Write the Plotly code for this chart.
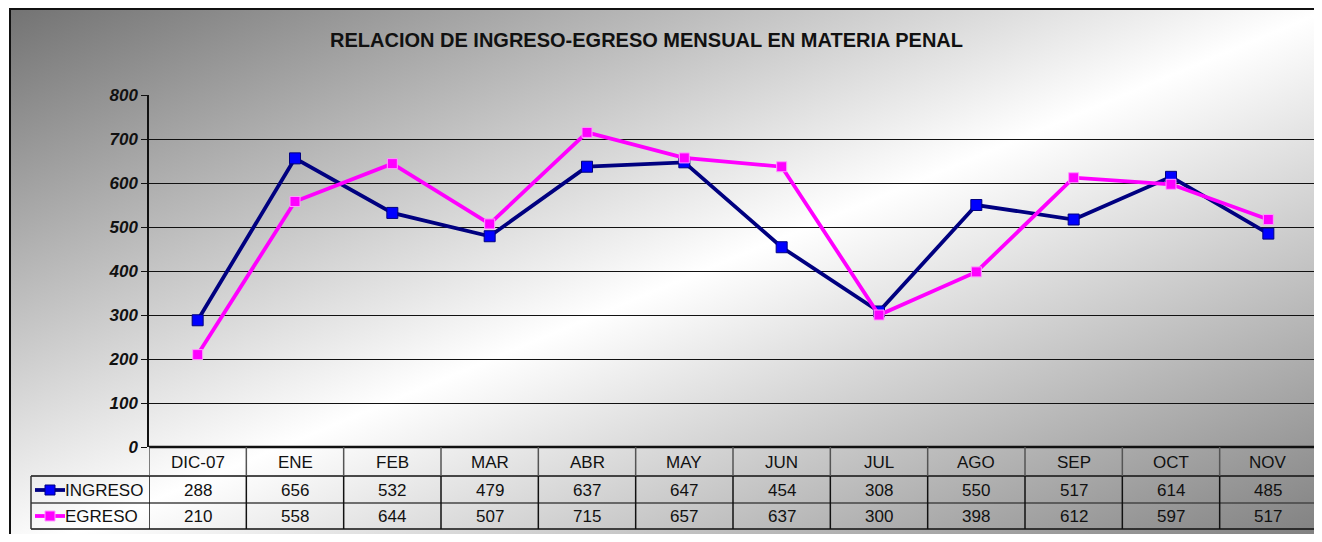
import base64
import plotly.graph_objects as go

# ---------------- data ----------------
categories = ["DIC-07", "ENE", "FEB", "MAR", "ABR", "MAY", "JUN", "JUL", "AGO", "SEP", "OCT", "NOV"]
ingreso = [288, 656, 532, 479, 637, 647, 454, 308, 550, 517, 614, 485]
egreso = [210, 558, 644, 507, 715, 657, 637, 300, 398, 612, 597, 517]
series_names = ["INGRESO", "EGRESO"]
y_ticks = [0, 100, 200, 300, 400, 500, 600, 700, 800]
title_text = "RELACION DE INGRESO-EGRESO MENSUAL EN MATERIA PENAL"

# ---------------- geometry ----------------
W, H = 1314, 526          # figure placed at page offset (8, 8)
OFF = 8
ML, MR, MT, MB = 141, 5, 87, 87
PW = W - ML - MR
PH = H - MT - MB


def px(xpage):
    return (xpage - OFF - ML) / PW


def py(ypage):
    return (H - (ypage - OFF) - MB) / PH


NAVY = "#000080"
BLUE = "#0000FF"
MAG = "#FF00FF"
FONT = "Liberation Sans, Arial, sans-serif"
TXT = 17

fig = go.Figure()
fig.add_trace(go.Scatter(
    x=list(range(len(categories))), y=ingreso, name=series_names[0], mode="lines+markers",
    line=dict(color=NAVY, width=3.8),
    marker=dict(symbol="square", size=11, color=BLUE, line=dict(color=NAVY, width=1)),
    showlegend=False, cliponaxis=False,
))
fig.add_trace(go.Scatter(
    x=list(range(len(categories))), y=egreso, name=series_names[1], mode="lines+markers",
    line=dict(color=MAG, width=3.8),
    marker=dict(symbol="square", size=10, color=MAG, line=dict(color="#FF99FF", width=1)),
    showlegend=False, cliponaxis=False,
))

# background gradient
svg = (
    '<svg xmlns="http://www.w3.org/2000/svg" width="100" height="100" viewBox="0 0 100 100" '
    'preserveAspectRatio="none"><defs><linearGradient id="g" x1="0" y1="0" x2="1" y2="1">'
    '<stop offset="0" stop-color="#737373"/><stop offset="0.5" stop-color="#ffffff"/>'
    '<stop offset="1" stop-color="#7a7a7a"/></linearGradient></defs>'
    '<rect x="0" y="0" width="100" height="100" fill="url(#g)"/></svg>'
)
src = "data:image/svg+xml;base64," + base64.b64encode(svg.encode()).decode()
fig.add_layout_image(dict(
    source=src, xref="paper", yref="paper",
    x=px(10), y=py(9), sizex=px(1330) - px(10), sizey=py(9) - py(560),
    sizing="stretch", layer="below", xanchor="left", yanchor="top",
))

shapes = []
# outer border of chart
shapes.append(dict(type="rect", xref="paper", yref="paper", x0=px(10), x1=px(1321),
                   y0=py(9), y1=py(560), line=dict(color="#111111", width=2), layer="above"))
# right border of plot area
shapes.append(dict(type="line", xref="paper", yref="paper", x0=1, x1=1, y0=0, y1=1,
                   line=dict(color="#444444", width=1.5)))
# bottom axis line (thick)
shapes.append(dict(type="line", xref="paper", yref="paper", x0=0, x1=1, y0=0, y1=0,
                   line=dict(color="#111111", width=2.5)))
# table horizontal lines
for yp, col, wd in [(476, "#111111", 1.5), (503, "#444444", 1.5), (529, "#111111", 1.5)]:
    shapes.append(dict(type="line", xref="paper", yref="paper", x0=px(31),
                       x1=1, y0=py(yp), y1=py(yp), line=dict(color=col, width=wd)))
# legend cell box left side
shapes.append(dict(type="line", xref="paper", yref="paper", x0=px(31), x1=px(31),
                   y0=py(476), y1=py(529), line=dict(color="#333333", width=1.5)))
# column separators
n = len(categories)
for i in range(n + 1):
    xb = i - 0.5
    shapes.append(dict(type="line", xref="x", yref="paper", x0=xb, x1=xb,
                       y0=py(447), y1=py(476), line=dict(color="#555555", width=1.5)))
    shapes.append(dict(type="line", xref="x", yref="paper", x0=xb, x1=xb,
                       y0=py(476), y1=py(529), line=dict(color="#111111", width=1.5)))

# legend keys
key_specs = [(490, NAVY, BLUE, NAVY), (516, MAG, MAG, "#FF99FF")]
for yp, lc, fc, bc in key_specs:
    shapes.append(dict(type="line", xref="paper", yref="paper", x0=px(35), x1=px(65),
                       y0=py(yp), y1=py(yp), line=dict(color=lc, width=3.8)))
    shapes.append(dict(type="rect", xref="paper", yref="paper", xsizemode="pixel",
                       ysizemode="pixel", xanchor=px(50), yanchor=py(yp), x0=-5, x1=5, y0=-5, y1=5,
                       fillcolor=fc, line=dict(color=bc, width=1)))

annotations = []
annotations.append(dict(text="<b>" + title_text + "</b>", xref="paper", yref="paper",
                        x=px(646), y=py(40), showarrow=False, xanchor="center", yanchor="middle",
                        font=dict(family=FONT, size=20, color="#111111")))
for i, c in enumerate(categories):
    annotations.append(dict(text=c, xref="x", yref="paper", x=i, y=py(462), showarrow=False,
                            yanchor="middle", font=dict(family=FONT, size=TXT, color="#111111")))
    annotations.append(dict(text=str(ingreso[i]), xref="x", yref="paper", x=i, y=py(490),
                            showarrow=False, yanchor="middle",
                            font=dict(family=FONT, size=TXT, color="#111111")))
    annotations.append(dict(text=str(egreso[i]), xref="x", yref="paper", x=i, y=py(516),
                            showarrow=False, yanchor="middle",
                            font=dict(family=FONT, size=TXT, color="#111111")))
for name, yp in zip(series_names, [490, 516]):
    annotations.append(dict(text=name, xref="paper", yref="paper", x=px(63), y=py(yp),
                            showarrow=False, xanchor="left", yanchor="middle",
                            font=dict(family=FONT, size=TXT, color="#111111")))

fig.update_layout(
    width=W, height=H, autosize=False,
    margin=dict(l=ML, r=MR, t=MT, b=MB, pad=0),
    paper_bgcolor="rgba(0,0,0,0)", plot_bgcolor="rgba(0,0,0,0)",
    shapes=shapes, annotations=annotations,
    xaxis=dict(range=[-0.5, n - 0.5], showgrid=False, zeroline=False, showticklabels=False,
               showline=False, ticks=""),
    yaxis=dict(range=[0, 800], tickvals=y_ticks, showgrid=True, gridcolor="#111111", gridwidth=1,
               zeroline=False, showline=True, linecolor="#111111", linewidth=1.5,
               ticks="outside", ticklen=6, tickcolor="#111111",
               tickfont=dict(family=FONT, size=17, color="#111111", weight="bold", style="italic")),
)

fig.write_html("out.html")
